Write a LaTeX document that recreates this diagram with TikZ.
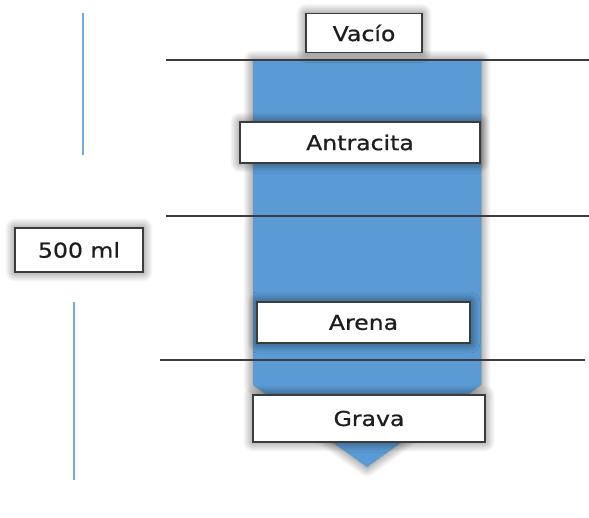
\documentclass[tikz,border=0pt]{standalone}
\usepackage{fontspec}
\setmainfont{DejaVu Sans}[FakeStretch=1.15,FakeBold=0.8]
\usetikzlibrary{shadows.blur}
\definecolor{filterblue}{RGB}{91,155,213}
\definecolor{guideblue}{RGB}{120,170,222}
\definecolor{edgegray}{RGB}{60,60,60}
\definecolor{labeltext}{RGB}{30,30,30}
\begin{document}
\begin{tikzpicture}[x=1pt,y=-1pt,
  glow/.style={blur shadow={shadow xshift=0pt,shadow yshift=0pt,
      shadow blur radius=10pt,shadow blur steps=12,shadow opacity=60}},
  layerbox/.style={draw=edgegray,line width=1.3pt,fill=white,glow,
      inner sep=0pt,text=labeltext,
      font=\fontsize{20.5}{24}\selectfont},
  levelline/.style={draw=edgegray,line width=1.4pt},
  guide/.style={draw=guideblue,line width=2pt}]
\useasboundingbox (0,0) rectangle (589,517);

% column of the filter
\path[fill=filterblue,glow] (253,60) -- (481,60) -- (481,385)
  -- (367,467) -- (253,385) -- cycle;

% level lines
\coordinate (l1a) at (166,60);  \coordinate (l1b) at (589,60);
\coordinate (l2a) at (166,216); \coordinate (l2b) at (589,216);
\coordinate (l3a) at (160,360); \coordinate (l3b) at (585,360);
\draw[levelline] (l1a) -- (l1b);
\draw[levelline] (l2a) -- (l2b);
\draw[levelline] (l3a) -- (l3b);

% layer labels
\node[layerbox,minimum width=116pt,minimum height=39pt] (vacio) at (364,33) {Vacío};
\node[layerbox,minimum width=240pt,minimum height=41pt] (antracita) at (360,142.5) {Antracita};
\node[layerbox,minimum width=213pt,minimum height=41pt] (arena) at (363.5,322.5) {Arena};
\node[layerbox,minimum width=232pt,minimum height=47pt] (grava) at (369,418.5) {Grava};
\node[layerbox,minimum width=128pt,minimum height=44pt] (vol) at (79,250) {500 ml};

% volume guide
\coordinate (g1a) at (83,13);  \coordinate (g1b) at (83,155);
\coordinate (g2a) at (74,302); \coordinate (g2b) at (74,480);
\draw[guide] (g1a) -- (g1b);
\draw[guide] (g2a) -- (g2b);
\end{tikzpicture}
\end{document}
